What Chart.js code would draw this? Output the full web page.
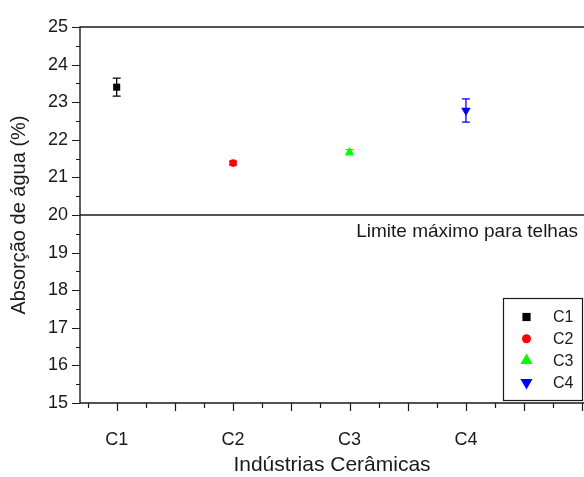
<!DOCTYPE html>
<html>
<head>
<meta charset="utf-8">
<script src="https://cdn.jsdelivr.net/npm/chart.js@4.4.0/dist/chart.umd.min.js"></script>
<style>
  html, body { margin: 0; padding: 0; background: #ffffff; }
  canvas { display: block; }
</style>
</head>
<body>
<canvas id="chart" width="584" height="477"></canvas>
<script>
// Water absorption (%) of ceramic roof tiles per industry, with standard deviation
const categories = ['C1', 'C2', 'C3', 'C4'];
const absorption = [23.40, 21.38, 21.67, 22.78];
const absorptionError = [0.24, 0.05, 0.07, 0.31];
const yTicks = [15, 16, 17, 18, 19, 20, 21, 22, 23, 24, 25];
const limitValue = 20;
const limitLabel = 'Limite máximo para telhas';
const markerColors = ['#000000', '#ff0000', '#00ff00', '#0000ff'];
const markerStyles = ['rect', 'circle', 'triangle', 'triangle'];
const markerRotations = [0, 0, 0, 180];
const markerRadii = [5, 3.8, 5.2, 5.5];
const legendRadii = [5.8, 4.5, 7, 7];

const X_MIN = 0.685, X_MAX = 5.014;
const FONT = '"Liberation Sans", Arial, sans-serif';
const INK = '#1a1a1a';

function drawMarker(ctx, style, rotation, radius, x, y, color) {
  ctx.save();
  ctx.fillStyle = color;
  ctx.translate(x, y);
  ctx.rotate(rotation * Math.PI / 180);
  ctx.beginPath();
  if (style === 'rect') {
    const s = Math.SQRT1_2 * radius;
    ctx.rect(-s, -s, 2 * s, 2 * s);
  } else if (style === 'circle') {
    ctx.arc(0, 0, radius, 0, Math.PI * 2);
  } else {
    const w = radius * Math.cos(Math.PI / 6);
    ctx.moveTo(0, -radius);
    ctx.lineTo(w, radius / 2);
    ctx.lineTo(-w, radius / 2);
    ctx.closePath();
  }
  ctx.fill();
  ctx.restore();
}

const datasets = categories.map((name, i) => ({
  label: name,
  data: [{ x: i + 1, y: absorption[i] }],
  pointStyle: markerStyles[i],
  rotation: markerRotations[i],
  pointRadius: markerRadii[i],
  pointHoverRadius: markerRadii[i],
  backgroundColor: markerColors[i],
  borderColor: markerColors[i],
  borderWidth: 0,
  errorBar: absorptionError[i]
}));

// Reference limit line
datasets.push({
  label: 'limite',
  type: 'line',
  data: [{ x: X_MIN, y: limitValue }, { x: X_MAX, y: limitValue }],
  borderColor: INK,
  borderWidth: 1.4,
  pointRadius: 0,
  pointHoverRadius: 0,
  fill: false
});

const errorBarPlugin = {
  id: 'errorBars',
  afterDatasetsDraw(chart) {
    const { ctx } = chart;
    const xs = chart.scales.x, ys = chart.scales.y;
    chart.data.datasets.forEach((ds) => {
      if (ds.errorBar === undefined) return;
      const p = ds.data[0];
      const px = xs.getPixelForValue(p.x);
      const top = ys.getPixelForValue(p.y + ds.errorBar);
      const bot = ys.getPixelForValue(p.y - ds.errorBar);
      ctx.save();
      ctx.strokeStyle = ds.borderColor;
      ctx.lineWidth = 1.3;
      ctx.beginPath();
      ctx.moveTo(px, top); ctx.lineTo(px, bot);
      ctx.moveTo(px - 4, top); ctx.lineTo(px + 4, top);
      ctx.moveTo(px - 4, bot); ctx.lineTo(px + 4, bot);
      ctx.stroke();
      ctx.restore();
    });
  }
};

const frameTicksPlugin = {
  id: 'frameTicks',
  afterDraw(chart) {
    const { ctx, chartArea: a } = chart;
    const xs = chart.scales.x, ys = chart.scales.y;
    ctx.save();
    ctx.strokeStyle = INK;
    ctx.lineWidth = 1.4;
    ctx.beginPath();
    ctx.moveTo(a.right, a.top); ctx.lineTo(a.left, a.top);
    ctx.lineTo(a.left, a.bottom); ctx.lineTo(a.right, a.bottom);
    ctx.stroke();
    ctx.lineWidth = 1.2;
    ctx.beginPath();
    for (let v = 0.75; v <= X_MAX; v += 0.25) {
      const major = Math.abs(v * 2 - Math.round(v * 2)) < 1e-6;
      const px = Math.round(xs.getPixelForValue(v)) + 0.5;
      ctx.moveTo(px, a.bottom);
      ctx.lineTo(px, a.bottom + (major ? 8 : 5));
    }
    for (let v = 15; v <= 25.001; v += 0.5) {
      const major = Math.abs(v - Math.round(v)) < 1e-6;
      const py = Math.round(ys.getPixelForValue(v)) + 0.5;
      ctx.moveTo(a.left, py);
      ctx.lineTo(a.left - (major ? 8 : 4), py);
    }
    ctx.stroke();

    // limit annotation
    ctx.fillStyle = INK;
    ctx.font = '19px ' + FONT;
    ctx.textAlign = 'right';
    ctx.textBaseline = 'middle';
    ctx.fillText(limitLabel, a.right - 6, ys.getPixelForValue(limitValue) + 17);

    // legend box
    const lx = 503, ly = 298, lw = 79, lh = 102;
    ctx.font = '16px ' + FONT;
    ctx.lineWidth = 1.2;
    ctx.strokeRect(lx + 0.5, ly + 0.5, lw, lh);
    ctx.textAlign = 'left';
    categories.forEach((name, i) => {
      const y = ly + 19 + i * 21.8;
      drawMarker(ctx, markerStyles[i], markerRotations[i], legendRadii[i], lx + 23.5, y, markerColors[i]);
      ctx.fillStyle = INK;
      ctx.fillText(name, lx + 50, y + 1);
    });
    ctx.restore();
  }
};

new Chart(document.getElementById('chart'), {
  type: 'scatter',
  data: { datasets },
  options: {
    responsive: false,
    devicePixelRatio: 1,
    animation: false,
    layout: { autoPadding: false, padding: { top: 27, right: 0, left: 0, bottom: 0 } },
    plugins: { legend: { display: false }, tooltip: { enabled: false } },
    scales: {
      x: {
        type: 'linear',
        min: X_MIN,
        max: X_MAX,
        afterBuildTicks(scale) { scale.ticks = categories.map((c, i) => ({ value: i + 1 })); },
        afterFit(scale) { scale.height = 74; },
        ticks: {
          callback: (v) => categories[Math.round(v) - 1] || '',
          font: { family: FONT, size: 18 },
          color: INK,
          padding: 26,
          maxRotation: 0,
          autoSkip: false
        },
        grid: { display: false, drawTicks: false },
        border: { display: false },
        title: {
          display: true,
          text: 'Indústrias Cerâmicas',
          font: { family: FONT, size: 21 },
          color: INK,
          padding: { top: 0, bottom: -1 }
        }
      },
      y: {
        min: 15,
        max: 25,
        afterBuildTicks(scale) { scale.ticks = yTicks.map((v) => ({ value: v })); },
        afterFit(scale) { scale.width = 80; },
        ticks: {
          font: { family: FONT, size: 18 },
          color: INK,
          padding: 12
        },
        grid: { display: false, drawTicks: false },
        border: { display: false },
        title: {
          display: true,
          text: 'Absorção de água (%)',
          font: { family: FONT, size: 20 },
          color: INK,
          padding: { top: 7, bottom: 0 }
        }
      }
    }
  },
  plugins: [errorBarPlugin, frameTicksPlugin]
});
</script>
</body>
</html>
